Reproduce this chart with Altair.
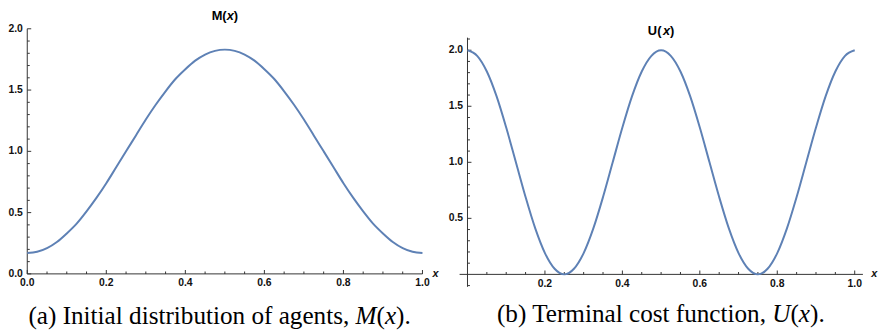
import altair as alt
import pandas as pd

# ---------------- data ----------------
m_x = [0.000, 0.025, 0.050, 0.075, 0.100, 0.125, 0.150, 0.175, 0.200, 0.225,
       0.250, 0.275, 0.300, 0.325, 0.350, 0.375, 0.400, 0.425, 0.450, 0.475,
       0.500, 0.525, 0.550, 0.575, 0.600, 0.625, 0.650, 0.675, 0.700, 0.725,
       0.750, 0.775, 0.800, 0.825, 0.850, 0.875, 0.900, 0.925, 0.950, 0.975,
       1.000]
m_y = [0.17, 0.18, 0.21, 0.26, 0.33, 0.41, 0.51, 0.62, 0.74, 0.87,
       1.00, 1.13, 1.26, 1.38, 1.49, 1.59, 1.67, 1.74, 1.79, 1.82,
       1.83, 1.82, 1.79, 1.74, 1.67, 1.59, 1.49, 1.38, 1.26, 1.13,
       1.00, 0.87, 0.74, 0.62, 0.51, 0.41, 0.33, 0.26, 0.21, 0.18,
       0.17]

u_x = [0.000, 0.025, 0.050, 0.075, 0.100, 0.125, 0.150, 0.175, 0.200, 0.225,
       0.250, 0.275, 0.300, 0.325, 0.350, 0.375, 0.400, 0.425, 0.450, 0.475,
       0.500, 0.525, 0.550, 0.575, 0.600, 0.625, 0.650, 0.675, 0.700, 0.725,
       0.750, 0.775, 0.800, 0.825, 0.850, 0.875, 0.900, 0.925, 0.950, 0.975,
       1.000]
u_y = [2.00, 1.95, 1.81, 1.59, 1.31, 1.00, 0.69, 0.41, 0.19, 0.05,
       0.00, 0.05, 0.19, 0.41, 0.69, 1.00, 1.31, 1.59, 1.81, 1.95,
       2.00, 1.95, 1.81, 1.59, 1.31, 1.00, 0.69, 0.41, 0.19, 0.05,
       0.00, 0.05, 0.19, 0.41, 0.69, 1.00, 1.31, 1.59, 1.81, 1.95,
       2.00]

# tick positions / labels
a_x_major = [0.0, 0.2, 0.4, 0.6, 0.8, 1.0]
a_x_labels = ["0.0", "0.2", "0.4", "0.6", "0.8", "1.0"]
a_y_major = [0.0, 0.5, 1.0, 1.5, 2.0]
a_y_labels = ["0.0", "0.5", "1.0", "1.5", "2.0"]
a_x_minor = [0.05, 0.10, 0.15, 0.25, 0.30, 0.35, 0.45, 0.50, 0.55, 0.65, 0.70,
             0.75, 0.85, 0.90, 0.95]
a_y_minor = [0.1, 0.2, 0.3, 0.4, 0.6, 0.7, 0.8, 0.9, 1.1, 1.2, 1.3, 1.4,
             1.6, 1.7, 1.8, 1.9]

b_x_major = [0.2, 0.4, 0.6, 0.8, 1.0]
b_x_labels = ["0.2", "0.4", "0.6", "0.8", "1.0"]
b_y_major = [0.5, 1.0, 1.5, 2.0]
b_y_labels = ["0.5", "1.0", "1.5", "2.0"]
b_x_minor = [0.05, 0.10, 0.15, 0.25, 0.30, 0.35, 0.45, 0.50, 0.55, 0.65, 0.70,
             0.75, 0.85, 0.90, 0.95]
b_y_minor = [-0.1, 0.1, 0.2, 0.3, 0.4, 0.6, 0.7, 0.8, 0.9, 1.1, 1.2, 1.3, 1.4,
             1.6, 1.7, 1.8, 1.9, 2.1]

LINE = "#5e81b5"
AX = "#333333"
TXT = "#111111"
SANS = "Liberation Sans"
SERIF = "Liberation Serif"


def panel(xs, ys, w, h, curve, xaxis, yaxis, xmaj, xlab, xmin_, ymaj, ylab,
          ymin_, title_parts, title_y, cap_parts, cap_y, xname_dx):
    sx = alt.Scale(domain=xs, nice=False, zero=False)
    sy = alt.Scale(domain=ys, nice=False, zero=False)

    def X(f):
        return alt.X(f, type="quantitative", scale=sx, axis=None)

    def Y(f):
        return alt.Y(f, type="quantitative", scale=sy, axis=None)

    layers = []
    # axes lines
    layers.append(alt.Chart(pd.DataFrame({"x": [xaxis[0]], "x2": [xaxis[1]], "y": [0.0]}))
                  .mark_rule(color=AX, strokeWidth=1)
                  .encode(x=X("x"), x2="x2", y=Y("y")))
    layers.append(alt.Chart(pd.DataFrame({"y": [yaxis[0]], "y2": [yaxis[1]], "x": [0.0]}))
                  .mark_rule(color=AX, strokeWidth=1)
                  .encode(y=Y("y"), y2="y2", x=X("x")))
    # x ticks
    layers.append(alt.Chart(pd.DataFrame({"x": xmaj, "y": [0.0] * len(xmaj)}))
                  .mark_tick(orient="vertical", size=4, thickness=1, yOffset=-2,
                             color=AX, opacity=1)
                  .encode(x=X("x"), y=Y("y")))
    layers.append(alt.Chart(pd.DataFrame({"x": xmin_, "y": [0.0] * len(xmin_)}))
                  .mark_tick(orient="vertical", size=2.5, thickness=1, yOffset=-1.25,
                             color=AX, opacity=1)
                  .encode(x=X("x"), y=Y("y")))
    # y ticks
    layers.append(alt.Chart(pd.DataFrame({"y": ymaj, "x": [0.0] * len(ymaj)}))
                  .mark_tick(orient="horizontal", size=4, thickness=1, xOffset=2,
                             color=AX, opacity=1)
                  .encode(x=X("x"), y=Y("y")))
    layers.append(alt.Chart(pd.DataFrame({"y": ymin_, "x": [0.0] * len(ymin_)}))
                  .mark_tick(orient="horizontal", size=2.5, thickness=1, xOffset=1.25,
                             color=AX, opacity=1)
                  .encode(x=X("x"), y=Y("y")))
    # tick labels
    layers.append(alt.Chart(pd.DataFrame({"x": xmaj, "y": [0.0] * len(xmaj), "t": xlab}))
                  .mark_text(align="center", baseline="middle", dy=9.5, font=SANS,
                             fontWeight="bold", fontSize=10.5, color=TXT)
                  .encode(x=X("x"), y=Y("y"), text="t:N"))
    layers.append(alt.Chart(pd.DataFrame({"y": ymaj, "x": [0.0] * len(ymaj), "t": ylab}))
                  .mark_text(align="right", baseline="middle", dx=-4.5, font=SANS,
                             fontWeight="bold", fontSize=10.5, color=TXT)
                  .encode(x=X("x"), y=Y("y"), text="t:N"))
    # axis name "x"
    layers.append(alt.Chart(pd.DataFrame({"x": [xaxis[1]], "y": [0.0]}))
                  .mark_text(text="x", align="center", baseline="middle", dx=xname_dx,
                             font=SANS, fontWeight="bold", fontStyle="italic",
                             fontSize=11, color=TXT)
                  .encode(x=X("x"), y=Y("y")))
    # curve
    layers.append(alt.Chart(pd.DataFrame({"x": curve[0], "y": curve[1]}))
                  .mark_line(color=LINE, strokeWidth=2, interpolate="monotone")
                  .encode(x=X("x"), y=Y("y")))
    # title pieces
    for txt, dx, style in title_parts:
        layers.append(alt.Chart(pd.DataFrame({"x": [0.5]}))
                      .mark_text(text=txt, align="left", baseline="middle", dx=dx,
                                 font=SANS, fontWeight="bold", fontStyle=style,
                                 fontSize=13, color="#000000")
                      .encode(x=X("x"), y=alt.value(title_y)))
    # caption pieces
    for txt, dx, style, al in cap_parts:
        layers.append(alt.Chart(pd.DataFrame({"x": [0.5]}))
                      .mark_text(text=txt, align=al, baseline="alphabetic", dx=dx,
                                 font=SERIF, fontStyle=style, fontSize=25.5,
                                 color="#000000")
                      .encode(x=X("x"), y=alt.value(cap_y)))
    return alt.layer(*layers).properties(width=w, height=h)


left = panel(
    xs=[-0.04373, 1.04323], ys=[-0.4496, 2.1450], w=435, h=322,
    curve=(m_x, m_y), xaxis=(0.0, 1.0), yaxis=(0.0, 2.0),
    xmaj=a_x_major, xlab=a_x_labels, xmin_=a_x_minor,
    ymaj=a_y_major, ylab=a_y_labels, ymin_=a_y_minor,
    title_parts=[("M(", -13.4, "normal"), ("x", 1.8, "italic"), (")", 9.0, "normal")],
    title_y=5.3,
    cap_parts=[("(a) Initial distribution of agents,", 126.0, "normal", "right"),
               ("M", 132.4, "italic", "left"),
               ("(", 153.6, "normal", "left"),
               ("x", 162.1, "italic", "left"),
               (").", 173.4, "normal", "left")],
    cap_y=317, xname_dx=13.3,
)

right = panel(
    xs=[-0.07218, 1.0576], ys=[-0.4872, 2.3498], w=443, h=322,
    curve=(u_x, u_y), xaxis=(-0.0204, 1.0212), yaxis=(-0.111, 2.112),
    xmaj=b_x_major, xlab=b_x_labels, xmin_=b_x_minor,
    ymaj=b_y_major, ylab=b_y_labels, ymin_=b_y_minor,
    title_parts=[("U(", -13.4, "normal"), ("x", 1.8, "italic"), (")", 9.0, "normal")],
    title_y=20.3,
    cap_parts=[("(b) Terminal cost function,", 106.2, "normal", "right"),
               ("U", 112.6, "italic", "left"),
               ("(", 131.0, "normal", "left"),
               ("x", 139.5, "italic", "left"),
               (").", 150.8, "normal", "left")],
    cap_y=315, xname_dx=11.6,
)

chart = (alt.hconcat(left, right, spacing=0)
         .properties(padding=0, background="white")
         .configure_view(stroke=None))

chart.save("out.html", embed_options={"renderer": "svg", "actions": False})
